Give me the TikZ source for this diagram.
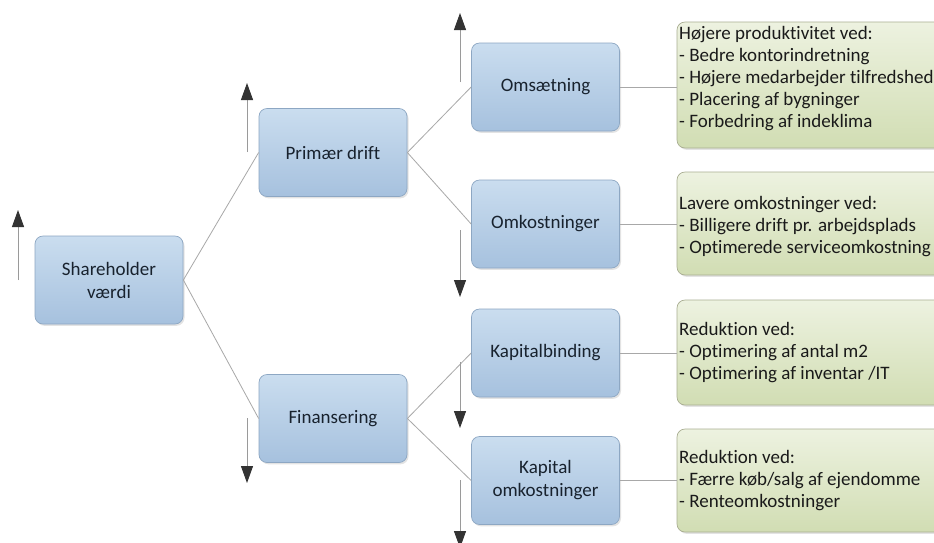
\documentclass[tikz,border=0pt]{standalone}
\usepackage{fontspec}
\setmainfont{Carlito}[Ligatures={NoCommon}]
\usetikzlibrary{arrows.meta,shadows}
\definecolor{btop}{HTML}{CADDEF}
\definecolor{bbot}{HTML}{A6C1DE}
\definecolor{bline}{HTML}{8DA7C3}
\definecolor{gtop}{HTML}{EDF2E0}
\definecolor{gbot}{HTML}{D1DDB3}
\definecolor{gline}{HTML}{A9AE92}
\definecolor{conncol}{HTML}{A8A8A8}
\definecolor{shaftcol}{HTML}{9A9A9A}
\definecolor{tipcol}{HTML}{333333}
\definecolor{btext}{HTML}{18222E}
\definecolor{gtext}{HTML}{1A1A1A}
\tikzset{
  bluebox/.style={draw=bline, line width=0.7pt, rounded corners=8pt,
    top color=btop, bottom color=bbot, minimum width=148pt, minimum height=88pt,
    align=center, text=btext, font={\fontsize{19}{23}\selectfont},
    drop shadow={opacity=0.22, shadow xshift=1.5pt, shadow yshift=-1.8pt}},
  greenbox/.style={draw=gline, line width=0.7pt, rounded corners=8pt,
    top color=gtop, bottom color=gbot, minimum width=273pt,
    drop shadow={opacity=0.22, shadow xshift=1.5pt, shadow yshift=-1.8pt}},
  gtextnode/.style={anchor=west, align=left, inner sep=0pt, text=gtext,
    font={\fontsize{19}{22}\selectfont}},
  conn/.style={draw=conncol, line width=0.8pt},
  trend/.style={draw=shaftcol, line width=1pt,
    -{Triangle[length=17pt,width=12pt,color=tipcol,fill=tipcol]}}
}
\begin{document}
\begin{tikzpicture}[x=1pt,y=-1pt]
\useasboundingbox (0,0) rectangle (934,542);
\clip (0,0) rectangle (934,542);
\fill[white] (0,0) rectangle (934,542);

% blue boxes
\node[bluebox] (sh) at (109,280) {Shareholder\\værdi};
\node[bluebox] (pr) at (333,152.5) {Primær drift};
\node[bluebox] (fi) at (333,418.5) {Finansering};
\node[bluebox] (om) at (545.5,87) {Omsætning};
\node[bluebox] (ok) at (545.5,224) {Omkostninger};
\node[bluebox] (kb) at (545.5,353) {Kapitalbinding};
\node[bluebox] (ko) at (545.5,480.5) {Kapital\\omkostninger};

% green boxes
\node[greenbox, minimum height=126pt] (g1) at (813.5,85) {};
\node[greenbox, minimum height=103pt] (g2) at (813.5,223.5) {};
\node[greenbox, minimum height=105pt] (g3) at (813.5,352.5) {};
\node[greenbox, minimum height=103pt] (g4) at (813.5,480.5) {};

\node[gtextnode] (t1) at (679,79) {Højere produktivitet ved:\\- Bedre kontorindretning\\- Højere medarbejder tilfredshed\\- Placering af bygninger\\- Forbedring af indeklima};
\node[gtextnode] (t2) at (679,226.5) {Lavere omkostninger ved:\\- Billigere drift pr. arbejdsplads\\- Optimerede serviceomkostning};
\node[gtextnode] (t3) at (679,352.5) {Reduktion ved:\\- Optimering af antal m2\\- Optimering af inventar /IT};
\node[gtextnode] (t4) at (679,480.5) {Reduktion ved:\\- Færre køb/salg af ejendomme\\- Renteomkostninger};

% connectors
\draw[conn] (sh.east) -- (pr.west);
\draw[conn] (sh.east) -- (fi.west);
\draw[conn] (pr.east) -- (om.west);
\draw[conn] (pr.east) -- (ok.west);
\draw[conn] (fi.east) -- (kb.west);
\draw[conn] (fi.east) -- (ko.west);
\draw[conn] (om.east) -- (om.east -| g1.west);
\draw[conn] (ok.east) -- (ok.east -| g2.west);
\draw[conn] (kb.east) -- (kb.east -| g3.west);
\draw[conn] (ko.east) -- (ko.east -| g4.west);

% trend arrows
\coordinate (a1s) at (18,280);  \coordinate (a1e) at (18,210);
\coordinate (a2s) at (247,152); \coordinate (a2e) at (247,83);
\coordinate (a3s) at (460,82);  \coordinate (a3e) at (460,13);
\coordinate (a4s) at (460,230); \coordinate (a4e) at (460,297);
\coordinate (a5s) at (247,418); \coordinate (a5e) at (247,483);
\coordinate (a6s) at (460,362); \coordinate (a6e) at (460,428);
\coordinate (a7s) at (460,480); \coordinate (a7e) at (460,548);
\draw[trend] (a1s) -- (a1e);
\draw[trend] (a2s) -- (a2e);
\draw[trend] (a3s) -- (a3e);
\draw[trend] (a4s) -- (a4e);
\draw[trend] (a5s) -- (a5e);
\draw[trend] (a6s) -- (a6e);
\draw[trend] (a7s) -- (a7e);
\end{tikzpicture}
\end{document}
